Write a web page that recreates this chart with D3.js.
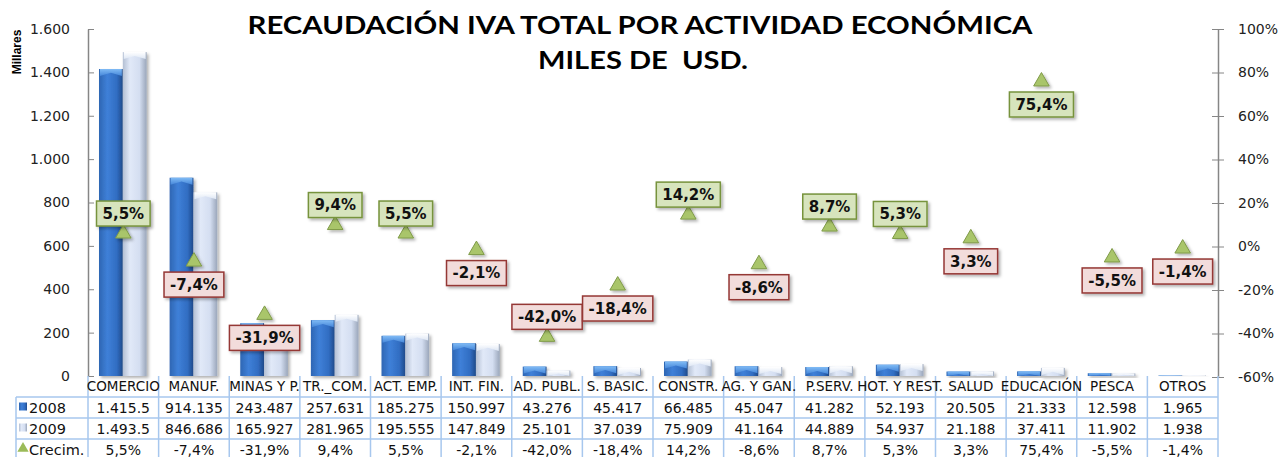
<!DOCTYPE html>
<html>
<head>
<meta charset="utf-8">
<script src="https://cdn.jsdelivr.net/npm/d3@7"></script>
<style>
  body { margin: 0; background: #fff; }
  svg { display: block; font-family: "DejaVu Sans", Verdana, sans-serif; }
</style>
</head>
<body>
<svg id="chart" width="1283" height="457"></svg>
<script>
// Data
var categories = ["COMERCIO", "MANUF.", "MINAS Y P.", "TR._COM.", "ACT. EMP.", "INT. FIN.", "AD. PUBL.", "S. BASIC.",
  "CONSTR.", "AG. Y GAN.", "P.SERV.", "HOT. Y REST.", "SALUD", "EDUCACIÓN", "PESCA", "OTROS"];
var values2008 = [1415.5, 914.135, 243.487, 257.631, 185.275, 150.997, 43.276, 45.417, 66.485, 45.047, 41.282, 52.193, 20.505, 21.333, 12.598, 1.965];
var values2009 = [1493.5, 846.686, 165.927, 281.965, 195.555, 147.849, 25.101, 37.039, 75.909, 41.164, 44.889, 54.937, 21.188, 37.411, 11.902, 1.938];
var growth = [5.5, -7.4, -31.9, 9.4, 5.5, -2.1, -42.0, -18.4, 14.2, -8.6, 8.7, 5.3, 3.3, 75.4, -5.5, -1.4];
var labels2008 = ["1.415.5", "914.135", "243.487", "257.631", "185.275", "150.997", "43.276", "45.417", "66.485", "45.047", "41.282", "52.193", "20.505", "21.333", "12.598", "1.965"];
var labels2009 = ["1.493.5", "846.686", "165.927", "281.965", "195.555", "147.849", "25.101", "37.039", "75.909", "41.164", "44.889", "54.937", "21.188", "37.411", "11.902", "1.938"];
var leftTicks = [0, 200, 400, 600, 800, 1000, 1200, 1400, 1600];
var rightTicks = [-60, -40, -20, 0, 20, 40, 60, 80, 100];
var seriesNames = ["2008", "2009", "Crecim."];

var svg = d3.select('#chart');
var plotLeft = 88, plotRight = 1218, plotTop = 29, plotBottom = 376;
var rowH = 21, firstRow = 397;

var x = d3.scaleBand().domain(categories).range([plotLeft, plotRight]).padding(0);
var xs = d3.scaleBand().domain(["2008", "2009"]).range([11, x.bandwidth() - 12]).padding(0);
var y = d3.scaleLinear().domain([0, 1600]).range([plotBottom, plotTop]);
var y2 = d3.scaleLinear().domain([-60, 100]).range([plotBottom + 1, plotTop]);

var fmtDots = function(d) { return d3.format(",")(d).replace(/,/g, "."); };
var fmtPct = function(d) { return d3.format(".1f")(d).replace("−", "-").replace(".", ",") + "%"; };

// gradients
var defs = svg.append('defs');
function grad(id, vertical, stops) {
  var g = defs.append('linearGradient').attr('id', id)
    .attr('x1', 0).attr('y1', 0).attr('x2', vertical ? 0 : 1).attr('y2', vertical ? 1 : 0);
  stops.forEach(function(s) { g.append('stop').attr('offset', s[0]).attr('stop-color', s[1]); });
}
grad('gBlue', false, [[0, '#2e66b3'], [0.35, '#3f80d8'], [0.75, '#316dc2'], [1, '#1f4a8a']]);
grad('gLight', false, [[0, '#b3bfd3'], [0.3, '#e1e9f8'], [0.7, '#d4def1'], [1, '#9aa6ba']]);
grad('gBlueCap', true, [[0, '#80bbf5'], [1, '#4586d9']]);
grad('gLightCap', true, [[0, '#ffffff'], [1, '#dde6f4']]);
var shadow = defs.append('filter').attr('id', 'shadow').attr('x', '-20%').attr('y', '-20%').attr('width', '150%').attr('height', '160%');
shadow.append('feDropShadow').attr('dx', 2).attr('dy', 2).attr('stdDeviation', 1.5).attr('flood-color', '#000').attr('flood-opacity', 0.3);

// title
svg.append('text').attr('x', 640).attr('y', 34).attr('text-anchor', 'middle')
  .style('font-family', 'Lato, "Open Sans", sans-serif').style('font-weight', 'bold').style('font-size', '25px')
  .attr('textLength', 785).attr('lengthAdjust', 'spacingAndGlyphs')
  .text('RECAUDACIÓN IVA TOTAL POR ACTIVIDAD ECONÓMICA');
svg.append('text').attr('x', 643).attr('y', 69).attr('text-anchor', 'middle')
  .style('font-family', 'Lato, "Open Sans", sans-serif').style('font-weight', 'bold').style('font-size', '25px')
  .style('white-space', 'pre')
  .attr('textLength', 210).attr('lengthAdjust', 'spacingAndGlyphs')
  .text('MILES DE  USD.');

// axes
var axisColor = '#868686';
var yAxis = svg.append('g').attr('transform', 'translate(' + plotLeft + ',0)')
  .call(d3.axisLeft(y).tickValues(leftTicks).tickFormat(fmtDots).tickSizeInner(6).tickSizeOuter(0).tickPadding(12));
yAxis.selectAll('.tick line').attr('x2', 6);
var y2Axis = svg.append('g').attr('transform', 'translate(' + plotRight + ',0)')
  .call(d3.axisRight(y2).tickValues(rightTicks).tickFormat(function(d) { return d + '%'; }).tickSizeInner(6).tickSizeOuter(0).tickPadding(14));
y2Axis.selectAll('.tick line').attr('x1', -6);
[yAxis, y2Axis].forEach(function(a) {
  a.select('.domain').attr('stroke', axisColor).attr('stroke-width', 1.5);
  a.selectAll('.tick line').attr('stroke', axisColor);
  a.selectAll('.tick text').style('font-size', '14px').style('font-family', '"DejaVu Sans", Verdana, sans-serif').attr('fill', '#222');
});

svg.append('text').attr('transform', 'translate(21,52) rotate(-90)').attr('text-anchor', 'middle')
  .style('font-size', '12px').style('font-weight', 'bold').style('font-family', '"Liberation Sans", Arial, sans-serif')
  .text('Millares');

// bars
var barData = [];
categories.forEach(function(c, i) {
  barData.push({ cat: c, series: '2008', value: values2008[i] });
  barData.push({ cat: c, series: '2009', value: values2009[i] });
});
var bars = svg.append('g').selectAll('g.bar').data(barData).enter().append('g').attr('class', 'bar')
  .attr('transform', function(d) { return 'translate(' + (x(d.cat) + xs(d.series)) + ',0)'; });
bars.append('rect')
  .attr('x', 0).attr('width', xs.bandwidth())
  .attr('y', function(d) { return y(d.value); })
  .attr('height', function(d) { return plotBottom - y(d.value); })
  .attr('fill', function(d) { return d.series === '2008' ? 'url(#gBlue)' : 'url(#gLight)'; })
  .attr('filter', 'url(#shadow)');
bars.append('path')
  .attr('d', function(d) {
    var t = y(d.value), w = xs.bandwidth(), h = Math.min(7, plotBottom - t);
    return 'M1,' + t + 'L' + (w - 1) + ',' + t + 'L' + (w - 1) + ',' + (t + h) + 'L' + (w / 2) + ',' + (t + h * 0.55) + 'L1,' + (t + h) + 'Z';
  })
  .attr('fill', function(d) { return d.series === '2008' ? 'url(#gBlueCap)' : 'url(#gLightCap)'; });

// growth markers
var tri = d3.symbol().type(d3.symbolTriangle).size(105);
svg.append('g').selectAll('path').data(growth).enter().append('path')
  .attr('d', tri)
  .attr('transform', function(d, i) { return 'translate(' + (x(categories[i]) + x.bandwidth() / 2) + ',' + (y2(d) - 1) + ')'; })
  .attr('fill', '#a9c56b').attr('stroke', '#7f9a48').attr('stroke-width', 1)
  .attr('filter', 'url(#shadow)');

// growth labels: above the marker for moderate rises and for the deepest drop, below otherwise
var lab = svg.append('g').selectAll('g').data(growth).enter().append('g')
  .attr('transform', function(d, i) {
    var above = (d > 5 && d < 50) || d < -40;
    return 'translate(' + (x(categories[i]) + x.bandwidth() / 2) + ',' + (y2(d) + (above ? -21 : 22)) + ')';
  });
lab.append('text').attr('text-anchor', 'middle').attr('dy', '0.36em')
  .style('font-size', '15px').style('font-weight', 'bold').attr('fill', '#111')
  .text(fmtPct);
lab.each(function(d) {
  var g = d3.select(this);
  var w = g.select('text').node().getComputedTextLength() + 12;
  // green box for rises above 5%, red box otherwise
  var rise = d > 5;
  g.insert('rect', 'text').attr('x', -w / 2).attr('y', -12.5).attr('width', w).attr('height', 25)
    .attr('fill', rise ? '#d7e4bd' : '#f2dcdb')
    .attr('stroke', rise ? '#77933c' : '#953735')
    .attr('stroke-width', 1.5).attr('filter', 'url(#shadow)');
});

// data table
var tbl = svg.append('g');
var lineColor = '#a7c7ee';
var rows = [labels2008, labels2009, growth.map(fmtPct)];
var vx = [plotLeft].concat(categories.map(function(c) { return x(c) + x.bandwidth(); }));
tbl.selectAll('line.v').data(vx).enter().append('line')
  .attr('x1', function(d) { return d; }).attr('x2', function(d) { return d; })
  .attr('y1', plotBottom).attr('y2', 457).attr('stroke', lineColor).attr('stroke-width', 1.5);
tbl.append('line').attr('x1', 16).attr('x2', 16).attr('y1', firstRow).attr('y2', 457).attr('stroke', lineColor).attr('stroke-width', 1.5);
[0, 1, 2].forEach(function(r) {
  var yy = firstRow + r * rowH;
  tbl.append('line').attr('x1', 16).attr('x2', plotRight).attr('y1', yy).attr('y2', yy).attr('stroke', lineColor).attr('stroke-width', 1.5);
});
tbl.selectAll('text.cat').data(categories).enter().append('text')
  .attr('x', function(c) { return x(c) + x.bandwidth() / 2; }).attr('y', plotBottom + 10.5).attr('dy', '0.36em')
  .attr('text-anchor', 'middle').style('font-size', '13.5px').attr('fill', '#111')
  .text(function(c) { return c; });
rows.forEach(function(row, r) {
  var cy = firstRow + r * rowH + rowH / 2;
  tbl.selectAll('text.r' + r).data(row).enter().append('text')
    .attr('x', function(d, i) { return x(categories[i]) + x.bandwidth() / 2; }).attr('y', cy).attr('dy', '0.36em')
    .attr('text-anchor', 'middle').style('font-size', '14px').attr('fill', '#111')
    .text(function(d) { return d; });
  tbl.append('text').attr('x', 29).attr('y', cy).attr('dy', '0.36em').style('font-size', '14.5px').attr('fill', '#111')
    .text(seriesNames[r]);
  if (r < 2) {
    tbl.append('rect').attr('x', 19).attr('y', cy - 5).attr('width', 8).attr('height', 8)
      .attr('fill', r === 0 ? 'url(#gBlue)' : 'url(#gLight)');
  } else {
    tbl.append('path').attr('d', d3.symbol().type(d3.symbolTriangle).size(55))
      .attr('transform', 'translate(23,' + (cy - 1) + ')').attr('fill', '#9bbb59');
  }
});
</script>
</body>
</html>
